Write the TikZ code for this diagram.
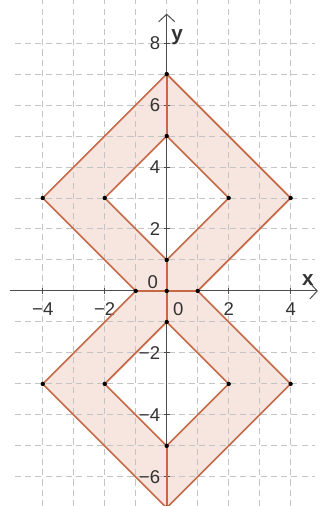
\documentclass[tikz,border=0pt]{standalone}
\usepackage{fontspec}
\setmainfont{Liberation Sans}
\usetikzlibrary{arrows.meta}
\definecolor{regionline}{RGB}{196,104,70}
\definecolor{regionfill}{RGB}{247,229,224}
\definecolor{gridgray}{RGB}{196,196,196}
\tikzset{
  gridline/.style={gridgray, line width=0.45pt, dash pattern=on 2.8pt off 1.9pt},
  edge/.style={regionline, line width=0.75pt},
  axis/.style={black!70, line width=0.45pt, -{Straight Barb[length=1.2mm,width=2.6mm]}},
  vertex/.style={circle, fill=black, inner sep=0pt, minimum size=2pt},
  ticklabel/.style={font=\fontsize{8.5}{10}\selectfont, text=black!80, inner sep=0pt},
  axislabel/.style={font=\fontsize{9.5}{11}\selectfont\bfseries, text=black!80, inner sep=0pt},
}
\begin{document}
\begin{tikzpicture}[x=0.5cm,y=0.5cm]
\useasboundingbox (-5.38,-6.94) rectangle (4.95,9.39);

% shaded band: outer outline minus the two inner diamonds
\fill[regionfill, even odd rule]
  (0,7) -- (4,3) -- (1,0) -- (4,-3) -- (0,-7) -- (-4,-3) -- (-1,0) -- (-4,3) -- cycle
  (0,5) -- (2,3) -- (0,1) -- (-2,3) -- cycle
  (0,-1) -- (2,-3) -- (0,-5) -- (-2,-3) -- cycle;

% grid
\foreach \x in {-4,...,4} {
    \draw[gridline] (\x,-6.94) -- (\x,9.39);
}
\foreach \y in {-6,...,8} {
    \draw[gridline] (-4.9,\y) -- (4.8,\y);
}

% axes
\draw[axis] (-5.05,0) -- (4.88,0);
\draw[axis] (0,-6.94) -- (0,8.95);
\node[axislabel] (xlab) at (4.56,0.36) {x};
\node[axislabel] (ylab) at (0.34,8.2) {y};

% ticks and numbers
\foreach \v/\t in {-4/−4,-2/−2,2/2,4/4} {
    \draw[black!70, line width=0.45pt] (\v,-0.1) -- (\v,0.1);
    \node[ticklabel] (xt\v) at (\v,-0.58) {\t};
}
\foreach \v/\t in {-6/−6,-4/−4,-2/−2,2/2,4/4,6/6,8/8} {
    \draw[black!70, line width=0.45pt] (-0.1,\v) -- (0.1,\v);
    \node[ticklabel, anchor=east] (yt\v) at (-0.2,\v) {\t};
}
\node[ticklabel] (zeroy) at (-0.45,0.28) {0};
\node[ticklabel] (zerox) at (0.37,-0.58) {0};

% edges of the region
\draw[edge] (0,7) -- (4,3) -- (1,0) -- (4,-3) -- (0,-7) -- (-4,-3) -- (-1,0) -- (-4,3) -- cycle;
\draw[edge] (0,5) -- (2,3) -- (0,1) -- (-2,3) -- cycle;
\draw[edge] (0,-1) -- (2,-3) -- (0,-5) -- (-2,-3) -- cycle;
\draw[edge] (-1,0) -- (1,0);
\draw[edge] (0,7) -- (0,5);
\draw[edge] (0,1) -- (0,-1);
\draw[edge] (0,-5) -- (0,-7);

% vertices
\foreach \px/\py [count=\i] in {0/7,4/3,-4/3,0/5,2/3,-2/3,0/1,-1/0,0/0,1/0,0/-1,2/-3,-2/-3,0/-5,4/-3,-4/-3,0/-7} {
    \node[vertex] (p\i) at (\px,\py) {};
}
\end{tikzpicture}
\end{document}
